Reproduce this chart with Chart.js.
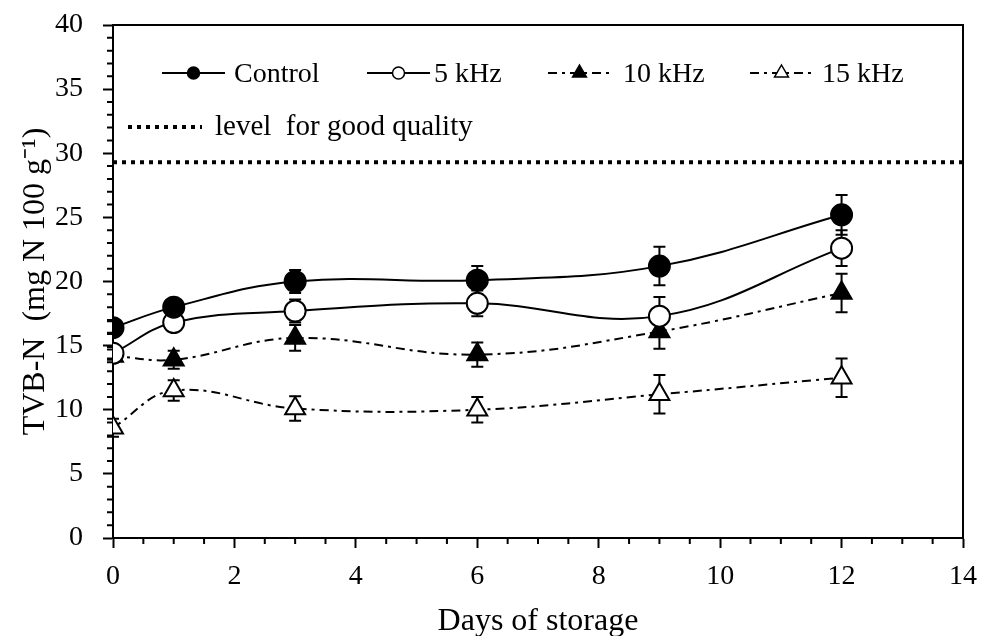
<!DOCTYPE html>
<html>
<head>
<meta charset="utf-8">
<script src="https://cdn.jsdelivr.net/npm/chart.js@4.4.1/dist/chart.umd.min.js"></script>
<style>
  html, body { margin: 0; padding: 0; background: #fff; }
</style>
</head>
<body>
<canvas id="tvbChart" width="981" height="636"></canvas>
<script>
// storage days and TVB-N values
const days = [0, 1, 3, 6, 9, 12];
const seriesNames = ["Control", "5 kHz", "10 kHz", "15 kHz"];
const controlVals = [16.4, 18.0, 20.0, 20.1, 21.2, 25.2];
const khz5Vals = [14.4, 16.8, 17.7, 18.3, 17.3, 22.6];
const khz10Vals = [14.2, 13.9, 15.6, 14.3, 16.1, 19.1];
const khz15Vals = [8.6, 11.5, 10.1, 10.0, 11.2, 12.5];
const controlErr = [0.5, 0.6, 0.9, 1.1, 1.5, 1.55];
const khz5Err = [0.5, 0.5, 0.9, 1.0, 1.5, 1.4];
const khz10Err = [0.5, 0.7, 1.0, 0.95, 1.35, 1.5];
const khz15Err = [0.7, 0.8, 0.95, 1.0, 1.5, 1.5];
const qualityLevel = 29.3;
const qualityLabel = "level  for good quality";
const xRange = [0, 14];
const yRange = [0, 40];

const serif = "'Liberation Serif', 'Times New Roman', serif";
const dashDot = [9, 5, 3, 5];

function toPoints(vals) {
    return days.map((d, i) => ({ x: d, y: vals[i] }));
}

function series(name, vals, errs, fill, style, dash) {
    return {
        label: name,
        data: toPoints(vals),
        errors: errs,
        borderColor: "#000",
        borderWidth: 2,
        borderDash: dash,
        tension: 0.4,
        pointStyle: style,
        pointRadius: style === "triangle" ? 11.5 : 10.5,
        pointBackgroundColor: fill,
        pointBorderColor: "#000",
        pointBorderWidth: 2
    };
}

const datasets = [
    series(seriesNames[0], controlVals, controlErr, "#000", "circle", []),
    series(seriesNames[1], khz5Vals, khz5Err, "#fff", "circle", []),
    series(seriesNames[2], khz10Vals, khz10Err, "#000", "triangle", dashDot),
    series(seriesNames[3], khz15Vals, khz15Err, "#fff", "triangle", dashDot),
    {
        label: qualityLabel,
        data: [{ x: xRange[0], y: qualityLevel }, { x: xRange[1], y: qualityLevel }],
        borderColor: "#000",
        borderWidth: 4,
        borderDash: [4, 5],
        pointRadius: 0,
        isLevel: true
    }
];

// error bars, drawn under the markers
const errorBars = {
    id: "errorBars",
    beforeDatasetsDraw(chart) {
        const ctx = chart.ctx;
        const xs = chart.scales.x, ys = chart.scales.y;
        ctx.save();
        ctx.strokeStyle = "#000";
        ctx.lineWidth = 2;
        chart.data.datasets.forEach(ds => {
            if (!ds.errors) return;
            ds.data.forEach((p, i) => {
                const px = xs.getPixelForValue(p.x);
                const top = ys.getPixelForValue(p.y + ds.errors[i]);
                const bot = ys.getPixelForValue(p.y - ds.errors[i]);
                ctx.beginPath();
                ctx.moveTo(px, top); ctx.lineTo(px, bot);
                ctx.moveTo(px - 6, top); ctx.lineTo(px + 6, top);
                ctx.moveTo(px - 6, bot); ctx.lineTo(px + 6, bot);
                ctx.stroke();
            });
        });
        ctx.restore();
    }
};

// frame round the plot and minor ticks
const frame = {
    id: "frame",
    afterDraw(chart) {
        const ctx = chart.ctx;
        const a = chart.chartArea;
        const xs = chart.scales.x, ys = chart.scales.y;
        ctx.save();
        ctx.strokeStyle = "#000";
        ctx.lineWidth = 2;
        ctx.beginPath();
        ctx.moveTo(a.left, a.top); ctx.lineTo(a.right, a.top); ctx.lineTo(a.right, a.bottom);
        for (let v = yRange[0]; v <= yRange[1]; v += 1) {
            if (v % 5 === 0) continue;
            const py = ys.getPixelForValue(v);
            ctx.moveTo(a.left, py); ctx.lineTo(a.left - 6, py);
        }
        for (let v = xRange[0]; v <= xRange[1]; v += 0.5) {
            if (v % 2 === 0) continue;
            const px = xs.getPixelForValue(v);
            ctx.moveTo(px, a.bottom); ctx.lineTo(px, a.bottom + 6);
        }
        ctx.stroke();
        ctx.restore();
    }
};

// legend inside the plot area
const insideLegend = {
    id: "insideLegend",
    afterDraw(chart) {
        const ctx = chart.ctx;
        const lineStart = [162, 367, 548, 750];
        const textStart = [234, 434, 623, 822];
        const rowY = 73;
        ctx.save();
        chart.data.datasets.forEach((ds, i) => {
            if (ds.isLevel) return;
            const x0 = lineStart[i], x1 = x0 + 63;
            ctx.strokeStyle = "#000";
            ctx.lineWidth = 2;
            ctx.setLineDash(ds.borderDash);
            ctx.beginPath();
            ctx.moveTo(x0, rowY); ctx.lineTo(x1, rowY);
            ctx.stroke();
            ctx.setLineDash([]);
            const cx = (x0 + x1) / 2;
            ctx.fillStyle = ds.pointBackgroundColor;
            ctx.beginPath();
            if (ds.pointStyle === "circle") {
                ctx.arc(cx, rowY, 6, 0, Math.PI * 2);
            } else {
                const r = 8;
                ctx.moveTo(cx, rowY - r);
                ctx.lineTo(cx + r * 0.866, rowY + r / 2);
                ctx.lineTo(cx - r * 0.866, rowY + r / 2);
                ctx.closePath();
            }
            ctx.fill();
            ctx.lineWidth = 1.5;
            ctx.stroke();
            ctx.fillStyle = "#000";
            ctx.font = "28px " + serif;
            ctx.textBaseline = "alphabetic";
            ctx.fillText(ds.label, textStart[i], rowY + 9);
        });
        const lvl = chart.data.datasets.find(d => d.isLevel);
        ctx.strokeStyle = "#000";
        ctx.lineWidth = 4;
        ctx.setLineDash(lvl.borderDash);
        ctx.beginPath();
        ctx.moveTo(128, 127); ctx.lineTo(202, 127);
        ctx.stroke();
        ctx.setLineDash([]);
        ctx.font = "29px " + serif;
        ctx.fillText(lvl.label, 215, 135);
        ctx.restore();
    }
};

new Chart(document.getElementById("tvbChart"), {
    type: "line",
    data: { datasets: datasets },
    options: {
        responsive: false,
        animation: false,
        devicePixelRatio: 1,
        layout: { padding: { top: 25, right: 18, left: 0, bottom: 0 } },
        plugins: { legend: { display: false }, tooltip: { enabled: false } },
        scales: {
            x: {
                type: "linear",
                min: xRange[0],
                max: xRange[1],
                afterFit(s) { s.height = 98; s.paddingLeft = 0; s.paddingRight = 0; },
                border: { display: true, color: "#000", width: 2 },
                grid: { drawOnChartArea: false, drawTicks: true, tickLength: 10, tickColor: "#000", tickWidth: 2 },
                ticks: { stepSize: 2, autoSkip: false, color: "#000", padding: 12, font: { family: serif, size: 28 } },
                title: { display: true, text: "Days of storage", color: "#000", padding: { top: 0, bottom: -5 }, font: { family: serif, size: 32 } }
            },
            y: {
                min: yRange[0],
                max: yRange[1],
                afterFit(s) { s.width = 113; s.paddingTop = 0; s.paddingBottom = 0; },
                border: { display: true, color: "#000", width: 2 },
                grid: { drawOnChartArea: false, drawTicks: true, tickLength: 10, tickColor: "#000", tickWidth: 2 },
                ticks: { stepSize: 5, color: "#000", padding: 20, font: { family: serif, size: 28 } },
                title: { display: true, text: "TVB-N  (mg N 100 g\u207B\u00B9)", color: "#000", padding: { top: 16, bottom: 0 }, font: { family: serif, size: 32 } }
            }
        }
    },
    plugins: [errorBars, frame, insideLegend]
});
</script>
</body>
</html>
